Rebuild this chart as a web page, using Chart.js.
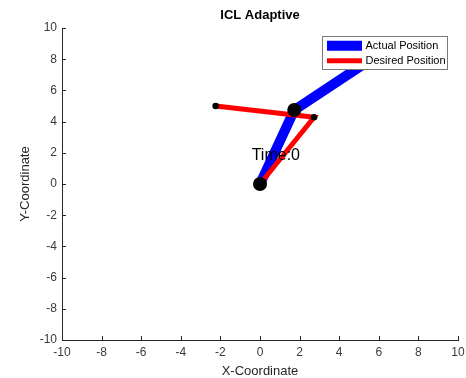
<!DOCTYPE html>
<html>
<head>
<meta charset="utf-8">
<script src="https://cdn.jsdelivr.net/npm/chart.js@4"></script>
<style>
  html, body { margin: 0; padding: 0; background: #fff; }
  #wrap { position: relative; width: 466px; height: 378px; }
</style>
</head>
<body>
<div id="wrap"><canvas id="c" width="466" height="378"></canvas></div>
<script>
// Two-link arm: joint coordinates (base, elbow, tip)
const actualX  = [0, 1.73, 5.55];
const actualY  = [0, 4.74, 7.95];
const desiredX = [0, 2.73, -2.24];
const desiredY = [0, 4.28, 5.00];

const axisTicks = [-10, -8, -6, -4, -2, 0, 2, 4, 6, 8, 10];
const titleText = 'ICL Adaptive';
const timeLabel = 'Time:0';
const timeLabelAt = { x: -0.42, y: 1.8 };

const seriesNames = ['Actual Position', 'Desired Position'];
const seriesColors = ['#0000ff', '#ff0000'];

const FONT = '"Liberation Sans", Arial, Helvetica, sans-serif';
const INK = '#262626';

const toPoints = (xs, ys) => xs.map((x, i) => ({ x, y: ys[i] }));

// keep the plot box fixed: no extra room reserved for overhanging tick labels
const fixedBox = size => s => {
  if (s.isHorizontal()) s.height = size; else s.width = size;
  s.paddingLeft = s.paddingRight = s.paddingTop = s.paddingBottom = 0;
};

// Inward tick marks, title, in-axes legend and the time caption
const decorations = {
  id: 'decorations',
  afterDatasetsDraw(chart) {
    const { ctx, chartArea: a, scales: { x, y } } = chart;
    ctx.save();

    // tick marks pointing into the axes
    ctx.strokeStyle = INK;
    ctx.lineWidth = 1;
    ctx.beginPath();
    axisTicks.forEach(v => {
      const px = Math.round(x.getPixelForValue(v)) + 0.5;
      ctx.moveTo(px, a.bottom);
      ctx.lineTo(px, a.bottom - 4);
      const py = Math.round(y.getPixelForValue(v)) + 0.5;
      ctx.moveTo(a.left, py);
      ctx.lineTo(a.left + 4, py);
    });
    ctx.stroke();

    // time caption
    ctx.fillStyle = '#000';
    ctx.font = '16px ' + FONT;
    ctx.textAlign = 'left';
    ctx.textBaseline = 'middle';
    ctx.fillText(timeLabel, x.getPixelForValue(timeLabelAt.x), y.getPixelForValue(timeLabelAt.y));

    // legend box (upper right, inside the axes)
    const lx = 322.5, ly = 36.5, lw = 125, lh = 33;
    ctx.fillStyle = '#fff';
    ctx.fillRect(lx, ly, lw, lh);
    ctx.strokeStyle = '#7a7a7a';
    ctx.lineWidth = 1;
    ctx.strokeRect(lx, ly, lw, lh);
    const ds = chart.data.datasets;
    [0, 1].forEach(i => {
      const cy = ly + 9.2 + i * 15;
      ctx.strokeStyle = seriesColors[i];
      ctx.lineWidth = ds[i].borderWidth;
      ctx.beginPath();
      ctx.moveTo(lx + 4.5, cy);
      ctx.lineTo(lx + 39.5, cy);
      ctx.stroke();
      ctx.fillStyle = '#000';
      ctx.font = '11px ' + FONT;
      ctx.textAlign = 'left';
      ctx.textBaseline = 'middle';
      ctx.fillText(seriesNames[i], lx + 43, cy + 0.5);
    });

    // title centred over the axes
    ctx.fillStyle = '#000';
    ctx.font = 'bold 13px ' + FONT;
    ctx.textAlign = 'center';
    ctx.textBaseline = 'middle';
    ctx.fillText(titleText, (a.left + a.right) / 2, 15);

    ctx.restore();
  }
};

new Chart(document.getElementById('c'), {
  type: 'scatter',
  data: {
    datasets: [
      {
        label: seriesNames[0],
        data: toPoints(actualX, actualY),
        showLine: true,
        borderColor: seriesColors[0],
        borderWidth: 10,
        pointRadius: 0,
        order: 3
      },
      {
        label: seriesNames[1],
        data: toPoints(desiredX, desiredY),
        showLine: true,
        borderColor: seriesColors[1],
        borderWidth: 5,
        pointRadius: 0,
        order: 2
      },
      {
        label: 'desired joints',
        data: toPoints(desiredX, desiredY),
        pointRadius: 3.3,
        pointBackgroundColor: '#000',
        pointBorderWidth: 0,
        order: 1
      },
      {
        label: 'actual joints',
        data: toPoints(actualX, actualY),
        pointRadius: 7,
        pointBackgroundColor: '#000',
        pointBorderWidth: 0,
        order: 0
      }
    ]
  },
  options: {
    responsive: false,
    animation: false,
    events: [],
    layout: { padding: { top: 28, right: 8, left: 0, bottom: 0 } },
    plugins: {
      legend: { display: false },
      title: { display: false },
      tooltip: { enabled: false }
    },
    scales: {
      x: {
        type: 'linear',
        min: -10, max: 10,
        afterFit: fixedBox(38),
        afterBuildTicks: s => { s.ticks = axisTicks.map(v => ({ value: v })); },
        grid: { display: true, drawOnChartArea: false, drawTicks: false },
        border: { display: true, color: INK, width: 1 },
        ticks: { color: '#3a3a3a', font: { family: FONT, size: 12 }, padding: 5, maxRotation: 0 },
        title: {
          display: true, text: 'X-Coordinate', color: INK,
          font: { family: FONT, size: 13, lineHeight: 1 },
          padding: { top: 0, bottom: 0 }
        }
      },
      y: {
        type: 'linear',
        min: -10, max: 10,
        afterFit: fixedBox(62),
        afterBuildTicks: s => { s.ticks = axisTicks.map(v => ({ value: v })); },
        grid: { display: true, drawOnChartArea: false, drawTicks: false },
        border: { display: true, color: INK, width: 1 },
        ticks: { color: '#3a3a3a', font: { family: FONT, size: 12 }, padding: 5 },
        title: {
          display: true, text: 'Y-Coordinate', color: INK,
          font: { family: FONT, size: 13, lineHeight: 1 },
          padding: { top: 18.5, bottom: 0 }
        }
      }
    }
  },
  plugins: [decorations]
});
</script>
</body>
</html>
